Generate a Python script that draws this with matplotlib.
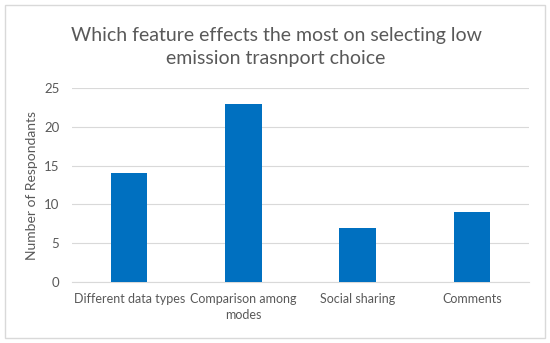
import matplotlib.pyplot as plt
from matplotlib.patches import Rectangle

categories = ["Different data types", "Comparison among\nmodes", "Social sharing", "Comments"]
respondents = [14, 23, 7, 9]
y_ticks = [0, 5, 10, 15, 20, 25]

TEXT = "#595959"
GRID = "#D9D9D9"
BAR = "#0070C0"

plt.rcParams["font.family"] = ["Lato", "DejaVu Sans"]

fig = plt.figure(figsize=(5.5, 3.43), dpi=100)
ax = fig.add_axes([72 / 550, 1 - 282 / 343, 457 / 550, 194 / 343])

x = list(range(len(categories)))
ax.bar(x, respondents, width=0.32, color=BAR, zorder=3)
ax.set_xlim(-0.5, len(categories) - 0.5)
ax.set_ylim(0, 25)
ax.set_yticks(y_ticks)
ax.set_xticks(x)
ax.set_xticklabels(categories, color=TEXT, fontsize=9, linespacing=1.35)
ax.tick_params(axis="y", colors=TEXT, labelsize=9.5, length=0, pad=9)
ax.tick_params(axis="x", length=0, pad=8)
ax.grid(axis="y", color=GRID, linewidth=0.8, zorder=0)
for s in ["top", "right", "left"]:
    ax.spines[s].set_visible(False)
ax.spines["bottom"].set_color(GRID)
ax.set_ylabel("Number of Respondants", color=TEXT, fontsize=10, labelpad=4)

fig.text(0.502, 1 - 47 / 343, "Which feature effects the most on selecting low\nemission trasnport choice",
         ha="center", va="center", fontsize=14, color=TEXT, linespacing=1.45)

# light frame around the chart area
fig.patches.append(Rectangle((5 / 550, 5 / 343), 540 / 550, 333 / 343, transform=fig.transFigure,
                             fill=False, edgecolor=GRID, linewidth=1))

fig.savefig("out.png", dpi=100)
